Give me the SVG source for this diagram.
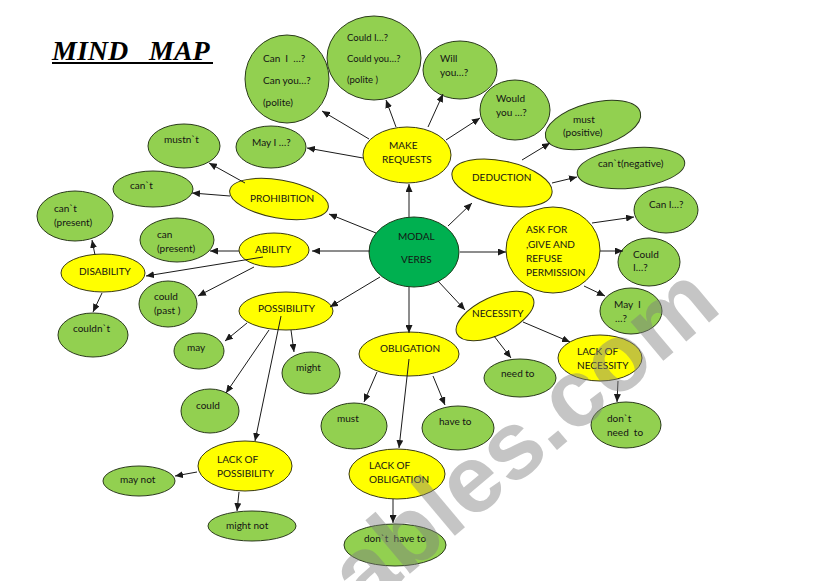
<svg xmlns="http://www.w3.org/2000/svg" width="821" height="581" viewBox="0 0 821 581">
<style>
  .g { fill: #92D050; stroke: #2a3a1a; stroke-width: 1; }
  .y { fill: #FFFF00; stroke: #3a3a10; stroke-width: 1; }
  .m { fill: #00B050; stroke: #1a3a1a; stroke-width: 1; }
  text { font-family: Lato, "Liberation Sans", sans-serif; font-size: 10px; fill: #141414; }
  .s { font-size: 9.5px; }
  .c { stroke: #1a1a1a; stroke-width: 1; fill: none; marker-end: url(#ah); }
  .title { font-family: "Liberation Serif", serif; font-size: 28px; font-weight: bold; font-style: italic; fill: #000; }
  .wm { font-family: "Liberation Sans", sans-serif; font-size: 96px; font-weight: bold; fill: #808080; opacity: 0.45; }
</style>
<defs>
  <marker id="ah" markerUnits="userSpaceOnUse" markerWidth="8" markerHeight="7" refX="8" refY="3.5" orient="auto">
    <path d="M0,0 L8,3.5 L0,7 z" fill="#1a1a1a"/>
  </marker>
</defs>
<rect width="821" height="581" fill="#ffffff"/>

<g id="title">
  <text class="title" x="52" y="60">MIND</text>
  <text class="title" x="149" y="60">MAP</text>
  <line x1="52" y1="63" x2="213" y2="63" stroke="#000" stroke-width="2"/>
</g>

<g id="nodes">
  <g id="n_modal"><ellipse class="m" cx="414" cy="252" rx="45" ry="35"/><text x="398" y="240">MODAL</text><text x="401" y="263">VERBS</text></g>
  <g id="n_make"><ellipse class="y" cx="407" cy="155" rx="44" ry="28"/><text x="389" y="149">MAKE</text><text x="382" y="163">REQUESTS</text></g>
  <g id="n_canI"><ellipse class="g" cx="287" cy="79" rx="42" ry="44"/><text xml:space="preserve" x="263" y="62">Can  I  …?</text><text x="263" y="84">Can you…?</text><text x="263" y="106">(polite)</text></g>
  <g id="n_couldI"><ellipse class="g" cx="374" cy="58" rx="47" ry="42"/><text class="s" x="347" y="41">Could I…?</text><text class="s" x="347" y="62">Could you…?</text><text class="s" x="347" y="83">(polite )</text></g>
  <g id="n_will"><ellipse class="g" cx="460" cy="70" rx="37" ry="29"/><text x="440" y="62">Will</text><text x="440" y="76">you…?</text></g>
  <g id="n_would"><ellipse class="g" cx="515" cy="110" rx="35" ry="30"/><text x="496" y="102">Would</text><text x="496" y="116">you …?</text></g>
  <g id="n_mayI"><ellipse class="g" cx="271" cy="147" rx="35" ry="21"/><text x="252" y="146">May I …?</text></g>
  <g id="n_mustnt"><ellipse class="g" cx="184" cy="146" rx="36" ry="22"/><text x="164" y="143">mustn`t</text></g>
  <g id="n_cant"><ellipse class="g" cx="153" cy="189" rx="40" ry="18"/><text x="130" y="189">can`t</text></g>
  <g id="n_prohib"><ellipse class="y" cx="279" cy="199" rx="50" ry="19" transform="rotate(10 279 199)"/><text x="250" y="202">PROHIBITION</text></g>
  <g id="n_deduction"><ellipse class="y" cx="502" cy="183" rx="51" ry="22" transform="rotate(12 502 183)"/><text x="472" y="181">DEDUCTION</text></g>
  <g id="n_mustpos"><ellipse class="g" cx="593" cy="125" rx="49" ry="22" transform="rotate(-15 593 125)"/><text x="573" y="123">must</text><text x="563" y="136">(positive)</text></g>
  <g id="n_cantneg"><ellipse class="g" cx="631" cy="168" rx="54" ry="20" transform="rotate(-6 631 168)"/><text x="598" y="167">can`t(negative)</text></g>
  <g id="n_ask"><ellipse class="y" cx="553" cy="250" rx="47" ry="43"/><text x="526" y="233">ASK FOR</text><text x="526" y="248">,GIVE AND</text><text x="526" y="262">REFUSE</text><text x="526" y="276">PERMISSION</text></g>
  <g id="n_canI2"><ellipse class="g" cx="666" cy="210" rx="32" ry="23"/><text x="649" y="208">Can I…?</text></g>
  <g id="n_couldI2"><ellipse class="g" cx="649" cy="262" rx="31" ry="24"/><text x="633" y="258">Could</text><text x="633" y="271">I…?</text></g>
  <g id="n_mayI2"><ellipse class="g" cx="631" cy="311" rx="31" ry="23"/><text xml:space="preserve" x="614" y="308">May  I</text><text x="615" y="322">…?</text></g>
  <g id="n_ability"><ellipse class="y" cx="274" cy="250" rx="35" ry="17"/><text x="255" y="253">ABILITY</text></g>
  <g id="n_canpres"><ellipse class="g" cx="177" cy="240" rx="37" ry="22"/><text x="157" y="238">can</text><text x="157" y="252">(present)</text></g>
  <g id="n_cantpres"><ellipse class="g" cx="75" cy="216" rx="38" ry="25"/><text x="54" y="212">can`t</text><text x="54" y="226">(present)</text></g>
  <g id="n_disab"><ellipse class="y" cx="103" cy="273" rx="42" ry="19"/><text x="79" y="275">DISABILITY</text></g>
  <g id="n_couldpast"><ellipse class="g" cx="168" cy="304" rx="29" ry="23"/><text x="154" y="300">could</text><text x="154" y="314">(past )</text></g>
  <g id="n_couldnt"><ellipse class="g" cx="93" cy="335" rx="35" ry="22"/><text x="73" y="332">couldn`t</text></g>
  <g id="n_poss"><ellipse class="y" cx="286" cy="311" rx="47" ry="19"/><text x="258" y="312">POSSIBILITY</text></g>
  <g id="n_may"><ellipse class="g" cx="199" cy="351" rx="25" ry="18"/><text x="187" y="351">may</text></g>
  <g id="n_might"><ellipse class="g" cx="311" cy="373" rx="29" ry="21"/><text x="296" y="371">might</text></g>
  <g id="n_could"><ellipse class="g" cx="210" cy="411" rx="29" ry="22"/><text x="196" y="409">could</text></g>
  <g id="n_lackposs"><ellipse class="y" cx="245" cy="466" rx="47" ry="25"/><text x="217" y="463">LACK OF</text><text x="217" y="477">POSSIBILITY</text></g>
  <g id="n_maynot"><ellipse class="g" cx="139" cy="481" rx="36" ry="15"/><text x="120" y="483">may not</text></g>
  <g id="n_mightnot"><ellipse class="g" cx="252" cy="526" rx="44" ry="15"/><text x="226" y="529">might not</text></g>
  <g id="n_oblig"><ellipse class="y" cx="409" cy="354" rx="50" ry="22"/><text x="380" y="352">OBLIGATION</text></g>
  <g id="n_necess"><ellipse class="y" cx="495" cy="316" rx="42" ry="19" transform="rotate(-25 495 316)"/><text x="472" y="317">NECESSITY</text></g>
  <g id="n_lacknec"><ellipse class="y" cx="600" cy="358" rx="42" ry="23"/><text x="577" y="355">LACK OF</text><text x="577" y="369">NECESSITY</text></g>
  <g id="n_needto"><ellipse class="g" cx="520" cy="378" rx="36" ry="19"/><text x="501" y="377">need to</text></g>
  <g id="n_dontneed"><ellipse class="g" cx="626" cy="425" rx="35" ry="23"/><text x="607" y="422">don`t</text><text xml:space="preserve" x="607" y="436">need  to</text></g>
  <g id="n_must"><ellipse class="g" cx="354" cy="426" rx="33" ry="23"/><text x="337" y="422">must</text></g>
  <g id="n_haveto"><ellipse class="g" cx="458" cy="428" rx="36" ry="22"/><text x="439" y="425">have to</text></g>
  <g id="n_lackobl"><ellipse class="y" cx="397" cy="474" rx="48" ry="25"/><text x="369" y="469">LACK OF</text><text x="369" y="483">OBLIGATION</text></g>
  <g id="n_donthave"><ellipse class="g" cx="395" cy="545" rx="51" ry="21"/><text xml:space="preserve" x="364" y="542">don`t  have to</text></g>
</g>

<g id="connectors">
  <line class="c" x1="369" y1="139" x2="322" y2="111"/>
  <line class="c" x1="396" y1="127" x2="386" y2="100"/>
  <line class="c" x1="428" y1="127" x2="443" y2="94"/>
  <line class="c" x1="446" y1="140" x2="480" y2="118"/>
  <line class="c" x1="363" y1="158" x2="307" y2="148"/>
  <line class="c" x1="409" y1="217" x2="409" y2="184"/>
  <line class="c" x1="376" y1="233" x2="329" y2="214"/>
  <line class="c" x1="370" y1="251" x2="312" y2="251"/>
  <line class="c" x1="380" y1="277" x2="330" y2="307"/>
  <line class="c" x1="409" y1="287" x2="409" y2="333"/>
  <line class="c" x1="438" y1="281" x2="465" y2="310"/>
  <line class="c" x1="460" y1="252" x2="506" y2="252"/>
  <line class="c" x1="448" y1="226" x2="472" y2="203"/>
  <line class="c" x1="522" y1="160" x2="550" y2="143"/>
  <line class="c" x1="552" y1="183" x2="577" y2="177"/>
  <line class="c" x1="592" y1="223" x2="634" y2="217"/>
  <line class="c" x1="600" y1="251" x2="623" y2="251"/>
  <line class="c" x1="584" y1="286" x2="605" y2="296"/>
  <line class="c" x1="523" y1="322" x2="570" y2="342"/>
  <line class="c" x1="494" y1="336" x2="511" y2="358"/>
  <line class="c" x1="618" y1="381" x2="617" y2="402"/>
  <line class="c" x1="377" y1="372" x2="364" y2="402"/>
  <line class="c" x1="433" y1="376" x2="445" y2="405"/>
  <line class="c" x1="409" y1="359" x2="399" y2="448"/>
  <line class="c" x1="393" y1="499" x2="393" y2="523"/>
  <line class="c" x1="247" y1="323" x2="225" y2="341"/>
  <line class="c" x1="291" y1="330" x2="294" y2="352"/>
  <line class="c" x1="269" y1="330" x2="226" y2="393"/>
  <line class="c" x1="281" y1="316" x2="255" y2="441"/>
  <line class="c" x1="197" y1="472" x2="175" y2="476"/>
  <line class="c" x1="239" y1="492" x2="237" y2="511"/>
  <line class="c" x1="239" y1="251" x2="210" y2="251"/>
  <line class="c" x1="254" y1="267" x2="198" y2="296"/>
  <line class="c" x1="263" y1="257" x2="146" y2="276"/>
  <line class="c" x1="95" y1="255" x2="92" y2="240"/>
  <line class="c" x1="102" y1="293" x2="93" y2="312"/>
  <line class="c" x1="245" y1="183" x2="209" y2="163"/>
  <line class="c" x1="230" y1="196" x2="192" y2="193"/>
</g>

<g id="watermark">
  <text class="wm" x="364" y="612" transform="rotate(-40 364 612)">ables.com</text>
</g>
</svg>
